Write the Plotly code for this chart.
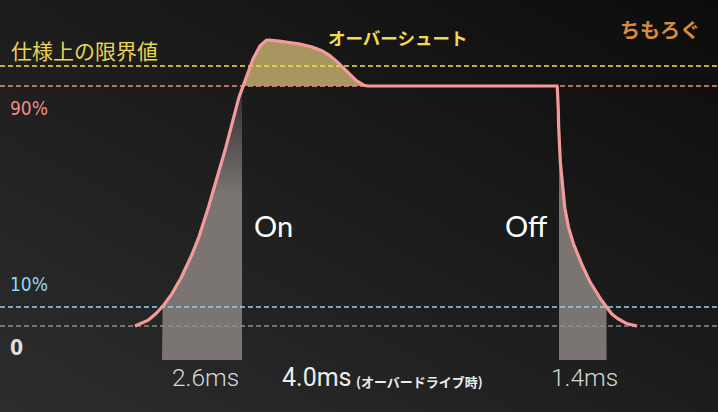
import numpy as np
import plotly.graph_objects as go

# ---- data (time in ms, level in % of response) ----
t = [0.0, 0.333, 0.667, 0.9, 1.167, 1.5, 1.733, 2.0, 2.167, 2.333, 2.5, 2.767, 3.0,
     3.233, 3.433, 3.6, 3.833, 4.0, 4.167, 4.433, 5.0, 5.5, 6.167, 6.6, 6.933, 7.267,
     7.5, 7.733, 7.933, 14.067, 14.1, 14.133, 14.2, 14.267, 14.367, 14.5, 14.667,
     14.833, 15.033, 15.267, 15.5, 15.733, 15.933, 16.167, 16.433, 16.733]
level = [0.0, 1.5, 4.3, 7.1, 11.0, 17.3, 22.8, 29.5, 34.6, 40.3, 46.5, 56.5, 65.8,
         76.5, 84.6, 90.0, 97.5, 101.6, 105.0, 107.25, 106.5, 105.75, 103.5, 100.5,
         96.75, 93.0, 91.1, 90.0, 90.0, 90.0, 84.75, 69.75, 58.5, 49.9, 41.6, 34.9,
         29.25, 24.75, 19.5, 14.6, 10.5, 6.75, 4.1, 2.25, 0.75, 0.0]

thresholds = {"limit": 97.5, "p90": 90.0, "p10": 7.1, "zero": 0.0}
threshold_colors = {"limit": "#f3e24c", "p90": "#ee8a8a", "p10": "#8fd4f2", "zero": "#8e8e8e"}

on_span = (0.9, 3.567)      # 2.6ms
off_span = (14.133, 15.717)  # 1.4ms
bar_base = -12.75
overshoot_span = (3.6, 7.733)

XR = (-4.5, 19.433)
YR = (-32.25, 122.25)

ta = np.array(t)
la = np.array(level)


def pchip(x, y, xn):
    h = np.diff(x)
    d = np.diff(y) / h
    n = len(x)
    m = np.zeros(n)
    for k in range(1, n - 1):
        if d[k - 1] * d[k] <= 0:
            m[k] = 0
        else:
            w1 = 2 * h[k] + h[k - 1]
            w2 = h[k] + 2 * h[k - 1]
            m[k] = (w1 + w2) / (w1 / d[k - 1] + w2 / d[k])
    m[0] = d[0]
    m[-1] = d[-1]
    idx = np.clip(np.searchsorted(x, xn) - 1, 0, n - 2)
    hh = h[idx]
    s = (xn - x[idx]) / hh
    h00 = 2 * s**3 - 3 * s**2 + 1
    h10 = s**3 - 2 * s**2 + s
    h01 = -2 * s**3 + 3 * s**2
    h11 = s**3 - s**2
    return h00 * y[idx] + h10 * hh * m[idx] + h01 * y[idx + 1] + h11 * hh * m[idx + 1]


td = np.unique(np.concatenate([np.linspace(ta[0], ta[-1], 1500), ta]))
ld = pchip(ta, la, td)

fig = go.Figure()

# background gradient
gx = np.linspace(XR[0], XR[1], 30)
gy = np.linspace(YR[0], YR[1], 30)
U = (gx - XR[0]) / (XR[1] - XR[0])
V = (YR[1] - gy) / (YR[1] - YR[0])  # 0 top, 1 bottom
Z = 16 * (1 - U[None, :]) + 17 * V[:, None]
fig.add_trace(go.Heatmap(x=gx, y=gy, z=Z, zmin=0, zmax=33, zsmooth="best",
                         colorscale=[[0, "rgb(12,12,12)"], [1, "rgb(45,45,45)"]],
                         showscale=False, hoverinfo="skip"))


def span_poly(a, b):
    xs = np.linspace(a, b, 120)
    ys = pchip(ta, la, xs)
    px_ = np.concatenate([[a], xs, [b, a]])
    py_ = np.concatenate([[bar_base], ys, [bar_base, bar_base]])
    return px_, py_


for a, b in (on_span, off_span):
    sx, sy = span_poly(a, b)
    fig.add_trace(go.Scatter(
        x=sx, y=sy, mode="lines", line=dict(width=0), fill="toself",
        fillcolor="rgba(122,116,114,1)",
        fillgradient=dict(type="vertical", start=bar_base, stop=90,
                          colorscale=[[0, "rgba(122,116,114,1)"], [0.6, "rgba(122,116,114,1)"],
                                      [1, "rgba(122,116,114,0.2)"]]),
        hoverinfo="skip", showlegend=False))

# overshoot fill
xs = np.linspace(overshoot_span[0], overshoot_span[1], 150)
ys = pchip(ta, la, xs)
fig.add_trace(go.Scatter(
    x=np.concatenate([xs, xs[::-1]]),
    y=np.concatenate([ys, np.full_like(xs, thresholds["p90"])]),
    mode="lines", line=dict(width=0), fill="toself",
    fillcolor="rgb(168,150,96)", hoverinfo="skip", showlegend=False))

# threshold lines
for k, v in thresholds.items():
    fig.add_trace(go.Scatter(x=[XR[0], XR[1]], y=[v, v], mode="lines",
                             line=dict(color=threshold_colors[k], width=1.6, dash="5px,3px"),
                             hoverinfo="skip", showlegend=False))

# response curve
fig.add_trace(go.Scatter(x=td, y=ld, mode="lines",
                         line=dict(color="#f39b9b", width=3.2),
                         showlegend=False))


def px(x):
    return x / 718


def py(y):
    return 1 - y / 412


COND = "DejaVu Sans Condensed"
ann = [
    dict(text="仕様上の限界値", x=px(9), y=py(50), xanchor="left", font=dict(size=21, color="#e9d552", family="Noto Sans CJK JP")),
    dict(text="オーバーシュート", x=px(397), y=py(38), xanchor="center", font=dict(size=17.5, color="#f2dc4a", family="Noto Sans CJK JP", weight="bold")),
    dict(text="ちもろぐ", x=px(660), y=py(30), xanchor="center", font=dict(size=20, color="#d98c3c", family="Noto Sans CJK JP", weight="bold")),
    dict(text="90%", x=px(8), y=py(108), xanchor="left", font=dict(size=19, color="#ee8a86", family=COND)),
    dict(text="10%", x=px(8), y=py(284), xanchor="left", font=dict(size=19, color="#8fd4f2", family=COND)),
    dict(text="0", x=px(8), y=py(348), xanchor="left", font=dict(size=21, color="#dddddd", family=COND, weight="bold")),
    dict(text="On", x=px(273), y=py(225), xanchor="center", font=dict(size=29, color="#ffffff", family="Lato")),
    dict(text="Off", x=px(526), y=py(225), xanchor="center", font=dict(size=29, color="#ffffff", family="Lato")),
    dict(text="2.6ms", x=px(205), y=py(377), xanchor="center", font=dict(size=24.5, color="#d6d6d6", family="Roboto", weight=300)),
    dict(text="1.4ms", x=px(584), y=py(377), xanchor="center", font=dict(size=24.5, color="#d6d6d6", family="Roboto", weight=300)),
    dict(text="4.0ms", x=px(280), y=py(377), xanchor="left", font=dict(size=25, color="#ececec", family="Roboto", weight=400)),
    dict(text="(オーバードライブ時)", x=px(354), y=py(381), xanchor="left", font=dict(size=13, color="#ececec", family="Noto Sans CJK JP", weight="bold")),
]
for a in ann:
    a.update(xref="paper", yref="paper", yanchor="middle", showarrow=False)

fig.update_layout(
    width=718, height=412, margin=dict(l=0, r=0, t=0, b=0),
    paper_bgcolor="#151515", plot_bgcolor="#151515",
    xaxis=dict(range=list(XR), visible=False, fixedrange=True),
    yaxis=dict(range=list(YR), visible=False, fixedrange=True),
    annotations=ann, showlegend=False,
)
fig.write_html("out.html", config={"displayModeBar": False},
               post_script="document.body.style.margin='0';document.body.style.overflow='hidden';")
